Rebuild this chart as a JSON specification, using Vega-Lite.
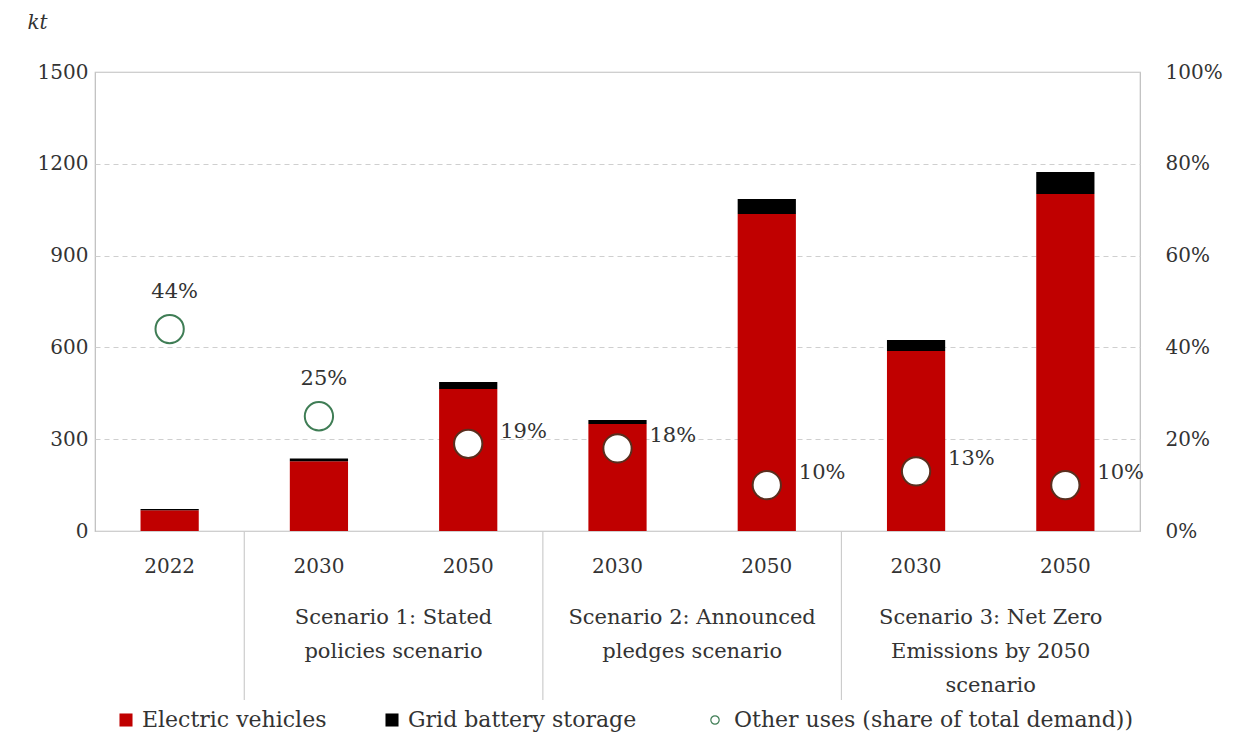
{
  "$schema": "https://vega.github.io/schema/vega-lite/v6.json",
  "width": 1045,
  "height": 459,
  "autosize": "none",
  "padding": {"left": 95, "top": 72, "right": 103, "bottom": 207},
  "background": "white",
  "config": {
    "font": "DejaVu Serif",
    "view": {"stroke": "#bdbdbd", "strokeWidth": 1.2},
    "text": {"color": "#333333"}
  },
  "datasets": {
    "bars": [
      {"key": "2022", "type": "Electric vehicles", "kt": 68},
      {"key": "2022", "type": "Grid battery storage", "kt": 4},
      {"key": "2030 S1", "type": "Electric vehicles", "kt": 228},
      {"key": "2030 S1", "type": "Grid battery storage", "kt": 9},
      {"key": "2050 S1", "type": "Electric vehicles", "kt": 464},
      {"key": "2050 S1", "type": "Grid battery storage", "kt": 23},
      {"key": "2030 S2", "type": "Electric vehicles", "kt": 350},
      {"key": "2030 S2", "type": "Grid battery storage", "kt": 13},
      {"key": "2050 S2", "type": "Electric vehicles", "kt": 1036},
      {"key": "2050 S2", "type": "Grid battery storage", "kt": 49},
      {"key": "2030 S3", "type": "Electric vehicles", "kt": 588},
      {"key": "2030 S3", "type": "Grid battery storage", "kt": 36},
      {"key": "2050 S3", "type": "Electric vehicles", "kt": 1101},
      {"key": "2050 S3", "type": "Grid battery storage", "kt": 72}
    ],
    "share": [
      {"key": "2022", "share": 0.44},
      {"key": "2030 S1", "share": 0.25},
      {"key": "2050 S1", "share": 0.19},
      {"key": "2030 S2", "share": 0.18},
      {"key": "2050 S2", "share": 0.10},
      {"key": "2030 S3", "share": 0.13},
      {"key": "2050 S3", "share": 0.10}
    ],
    "groups": [
      {"first": "2030 S1", "label": "Scenario 1:  Stated\npolicies scenario"},
      {"first": "2030 S2", "label": "Scenario 2: Announced\npledges scenario"},
      {"first": "2030 S3", "label": "Scenario 3: Net Zero\nEmissions by 2050\nscenario"}
    ]
  },
  "layer": [
    {
      "layer": [
        {
          "data": {"name": "bars"},
          "mark": {"type": "bar", "width": {"band": 0.39}},
          "encoding": {
            "x": {
              "field": "key", "type": "nominal", "title": null,
              "scale": {"domain": ["2022", "2030 S1", "2050 S1", "2030 S2", "2050 S2", "2030 S3", "2050 S3"], "paddingInner": 0, "paddingOuter": 0},
              "axis": {
                "orient": "bottom", "title": null, "labelAngle": 0, "ticks": false, "domain": false,
                "labelExpr": "slice(datum.label, 0, 4)", "labelFontSize": 20, "labelColor": "#333333", "labelPadding": 25
              }
            },
            "y": {
              "field": "kt", "type": "quantitative", "stack": "zero", "title": "kt",
              "scale": {"domain": [0, 1500], "nice": false},
              "axis": {
                "orient": "left", "values": [0, 300, 600, 900, 1200, 1500], "format": "d", "domain": false, "ticks": false,
                "labelFontSize": 20, "labelColor": "#333333", "labelPadding": 7,
                "grid": true, "gridColor": "#cfcfcf",
                "gridDash": {"condition": {"test": "datum.value == 0 || datum.value == 1500", "value": []}, "value": [5, 4]},
                "title": "kt", "titleAngle": 0, "titleFontStyle": "italic", "titleFontWeight": "normal", "titleFontSize": 20,
                "titleColor": "#333333", "titleAlign": "center", "titleBaseline": "middle", "titleX": -58, "titleY": -50
              }
            },
            "color": {
              "field": "type", "type": "nominal",
              "scale": {"domain": ["Electric vehicles", "Grid battery storage"], "range": ["#C00000", "#000000"]},
              "legend": {
                "orient": "none", "legendX": 20, "legendY": 637, "direction": "horizontal", "title": null,
                "symbolType": "square", "symbolSize": 170, "labelFontSize": 22, "labelColor": "#333333", "labelLimit": 0,
                "columnPadding": 54, "labelOffset": 5
              }
            },
            "order": {"field": "type", "sort": "ascending"}
          }
        },
        {
          "data": {"name": "groups"},
          "mark": {"type": "rule", "color": "#cccccc", "strokeWidth": 1.2, "y2Offset": 169},
          "encoding": {
            "x": {"field": "first", "type": "nominal", "bandPosition": 0, "title": null},
            "y": {"datum": 0, "type": "quantitative", "title": null},
            "y2": {"datum": 0}
          }
        },
        {
          "data": {"name": "groups"},
          "mark": {"type": "text", "lineBreak": "\n", "fontSize": 21, "align": "center", "baseline": "top", "dy": 76, "lineHeight": 34, "color": "#333333"},
          "encoding": {
            "x": {"field": "first", "type": "nominal", "bandPosition": 1, "title": null},
            "y": {"datum": 0, "type": "quantitative", "title": null},
            "text": {"field": "label"}
          }
        }
      ]
    },
    {
      "layer": [
        {
          "data": {"name": "share"},
          "transform": [{"filter": "datum.share >= 0.25"}],
          "mark": {"type": "point", "shape": "circle", "filled": false, "fill": "white", "fillOpacity": 1, "size": 800, "strokeWidth": 2, "opacity": 1},
          "encoding": {
            "x": {"field": "key", "type": "nominal", "title": null},
            "y": {
              "field": "share", "type": "quantitative", "title": null,
              "scale": {"domain": [0, 1], "nice": false},
              "axis": {
                "orient": "right", "values": [0, 0.2, 0.4, 0.6, 0.8, 1], "format": ".0%", "domain": false, "ticks": false,
                "grid": false, "title": null, "labelFontSize": 20, "labelColor": "#333333", "labelPadding": 25
              }
            },
            "stroke": {
              "datum": "Other uses (share of total demand))",
              "scale": {"range": ["#3f7d55"]},
              "legend": {
                "orient": "none", "legendX": 609, "legendY": 637, "title": null,
                "symbolType": "circle", "symbolSize": 70, "symbolFillColor": "white", "symbolStrokeWidth": 1.2,
                "labelFontSize": 22, "labelColor": "#333333", "labelOffset": 8, "labelLimit": 0
              }
            }
          }
        },
        {
          "data": {"name": "share"},
          "transform": [{"filter": "datum.share < 0.25"}],
          "mark": {"type": "point", "shape": "circle", "filled": false, "fill": "white", "fillOpacity": 1, "size": 800, "strokeWidth": 2, "opacity": 1, "stroke": "#5a2e1e"},
          "encoding": {
            "x": {"field": "key", "type": "nominal", "title": null},
            "y": {"field": "share", "type": "quantitative", "title": null, "axis": {"orient": "right"}}
          }
        },
        {
          "data": {"name": "share"},
          "transform": [{"filter": "datum.share >= 0.25"}],
          "mark": {"type": "text", "fontSize": 21, "align": "center", "baseline": "middle", "dx": 5, "dy": -37, "color": "#333333"},
          "encoding": {
            "x": {"field": "key", "type": "nominal", "title": null},
            "y": {"field": "share", "type": "quantitative", "title": null, "axis": {"orient": "right"}},
            "text": {"field": "share", "type": "quantitative", "format": ".0%"}
          }
        },
        {
          "data": {"name": "share"},
          "transform": [{"filter": "datum.share < 0.25"}],
          "mark": {"type": "text", "fontSize": 21, "align": "left", "baseline": "middle", "dx": 32, "dy": -12, "color": "#333333"},
          "encoding": {
            "x": {"field": "key", "type": "nominal", "title": null},
            "y": {"field": "share", "type": "quantitative", "title": null, "axis": {"orient": "right"}},
            "text": {"field": "share", "type": "quantitative", "format": ".0%"}
          }
        }
      ]
    }
  ],
  "resolve": {"scale": {"y": "independent"}}
}
